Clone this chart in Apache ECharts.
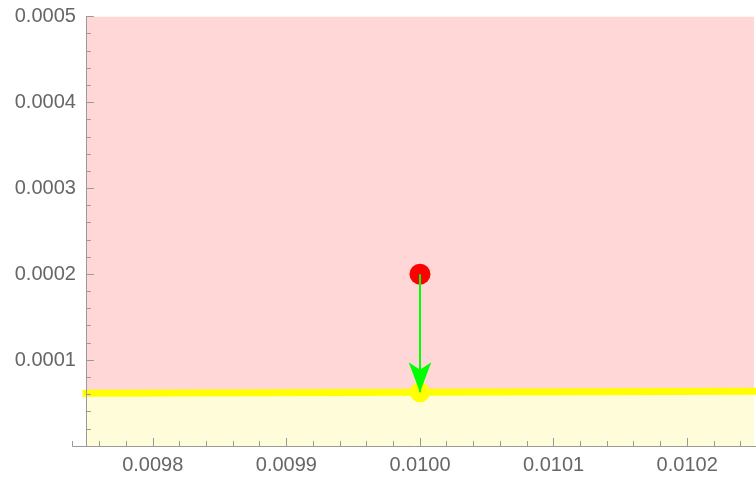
<!DOCTYPE html>
<html>
<head>
<meta charset="utf-8">
<script src="https://cdn.jsdelivr.net/npm/echarts@6/dist/echarts.min.js"></script>
<style>
  html, body { margin: 0; padding: 0; background: #fff; }
  #chart { width: 756px; height: 481px; }
</style>
</head>
<body>
<div id="chart"></div>
<script>
// Boundary curve between the two regions
const boundaryX = [0.00975, 0.01, 0.01025];
const boundaryY = [0.0000613, 0.0000625, 0.0000638];

// Start point (red) and its projection onto the boundary (yellow)
const startPoint = [0.01, 0.0002];
const projectedPoint = [0.01, 0.0000625];

// Plotted range
const xRange = [0.00975, 0.01025];
const yRange = [0, 0.0005];

// Tick values and labels
const xTickValues = [0.0098, 0.0099, 0.0100, 0.0101, 0.0102];
const xTickLabels = ['0.0098', '0.0099', '0.0100', '0.0101', '0.0102'];
const yTickValues = [0.0001, 0.0002, 0.0003, 0.0004, 0.0005];
const yTickLabels = ['0.0001', '0.0002', '0.0003', '0.0004', '0.0005'];

// Minor x ticks every 0.00002 from the left end of the axis line
const xMinorTicks = [];
for (let i = 487; i <= 512; i++) {
  const v = +(i * 0.00002).toFixed(6);
  if (i % 5 !== 0) xMinorTicks.push(v);
}

const axisGray = '#9a9a9a';
const labelGray = '#666666';
const font = 'Liberation Sans, Arial, sans-serif';
const xAxisMin = 0.00974;
const xAxisMax = 0.0102515;

const chart = echarts.init(document.getElementById('chart'), null, { renderer: 'canvas' });

const upperRegion = xRange.map(x => [x, yRange[1]]);
const boundary = boundaryX.map((x, i) => [x, boundaryY[i]]);

chart.setOption({
  animation: false,
  backgroundColor: '#ffffff',
  grid: { left: 72.6, right: 0, top: 16.5, bottom: 35, containLabel: false },
  xAxis: [
    {
      type: 'value',
      min: xAxisMin,
      max: xAxisMax,
      z: 10,
      axisLine: { show: true, lineStyle: { color: axisGray, width: 1 } },
      axisTick: { show: true, inside: true, length: 8, customValues: xTickValues,
                  lineStyle: { color: axisGray, width: 1 } },
      axisLabel: {
        show: true, customValues: xTickValues, margin: 9,
        color: labelGray, fontSize: 20, fontFamily: font,
        formatter: v => {
          const i = xTickValues.findIndex(t => Math.abs(t - v) < 1e-9);
          return i >= 0 ? xTickLabels[i] : '';
        }
      },
      splitLine: { show: false }
    },
    {
      type: 'value',
      position: 'bottom',
      min: xAxisMin,
      max: xAxisMax,
      z: 10,
      axisLine: { show: false },
      axisTick: { show: true, inside: true, length: 5, customValues: xMinorTicks,
                  lineStyle: { color: axisGray, width: 1 } },
      axisLabel: { show: false },
      splitLine: { show: false }
    }
  ],
  yAxis: {
    type: 'value',
    min: yRange[0],
    max: yRange[1],
    interval: 0.0001,
    offset: -13.3,
    z: 10,
    axisLine: { show: true, lineStyle: { color: axisGray, width: 1 } },
    axisTick: { show: true, inside: true, length: 8, lineStyle: { color: axisGray, width: 1 } },
    minorTick: { show: true, splitNumber: 5, length: 5, lineStyle: { color: axisGray, width: 1 } },
    axisLabel: {
      show: true, customValues: yTickValues, margin: 10,
      color: labelGray, fontSize: 20, fontFamily: font,
      formatter: v => {
        const i = yTickValues.findIndex(t => Math.abs(t - v) < 1e-12);
        return i >= 0 ? yTickLabels[i] : '';
      }
    },
    splitLine: { show: false },
    minorSplitLine: { show: false }
  },
  series: [
    {
      name: 'upper',
      type: 'line',
      data: upperRegion,
      showSymbol: false,
      lineStyle: { width: 0 },
      areaStyle: { color: '#FFD7D7', opacity: 1 },
      z: 1,
      silent: true
    },
    {
      name: 'boundary',
      type: 'line',
      data: boundary,
      showSymbol: false,
      lineStyle: { color: '#FFFF00', width: 7, cap: 'square' },
      areaStyle: { color: '#FFFDD9', opacity: 1 },
      z: 2,
      silent: true
    },
    {
      name: 'points',
      type: 'scatter',
      data: [
        { value: projectedPoint, symbolSize: 20, itemStyle: { color: '#FFFF00', opacity: 1 } },
        { value: startPoint, symbolSize: 21, itemStyle: { color: '#FF0000', opacity: 1 } }
      ],
      z: 3,
      silent: true
    },
    {
      name: 'step',
      type: 'line',
      data: [],
      z: 4,
      markLine: {
        silent: true,
        animation: false,
        label: { show: false },
        lineStyle: { color: '#00FF00', width: 2, type: 'solid', opacity: 1 },
        symbol: ['none', 'arrow'],
        data: [[
          { coord: startPoint, symbol: 'none' },
          { coord: projectedPoint, symbol: 'arrow', symbolSize: [17, 30] }
        ]]
      }
    }
  ]
});
</script>
</body>
</html>
